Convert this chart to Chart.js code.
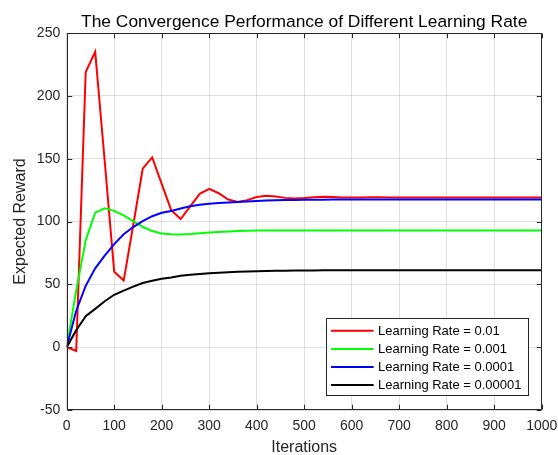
<!DOCTYPE html>
<html>
<head>
<meta charset="utf-8">
<script src="https://cdn.jsdelivr.net/npm/chart.js@4.4.1/dist/chart.umd.min.js"></script>
<style>
  html, body { margin: 0; padding: 0; background: #ffffff; }
  #wrap { width: 558px; height: 455px; }
</style>
</head>
<body>
<div id="wrap"><canvas id="c" width="558" height="455"></canvas></div>
<script>
// ---- data ----
const titleText = 'The Convergence Performance of Different Learning Rate';
const xLabel = 'Iterations';
const yLabel = 'Expected Reward';
const seriesLabels = ['Learning Rate = 0.01', 'Learning Rate = 0.001', 'Learning Rate = 0.0001', 'Learning Rate = 0.00001'];
const seriesColors = ['#ff0000', '#00ff00', '#0000ff', '#000000'];

const iterations = [0, 20, 40, 60, 80, 100, 120, 140, 160, 180,
  200, 220, 240, 260, 280, 300, 320, 340, 360, 380,
  400, 420, 440, 460, 480, 500, 520, 540, 560, 580,
  600, 620, 640, 660, 680, 700, 720, 740, 760, 780,
  800, 820, 840, 860, 880, 900, 920, 940, 960, 980, 1000];

const lr001 = [0, -3, 219, 235, 148, 60, 53, 97, 142, 151,
  130, 109, 102, 112, 122, 126, 122.5, 117.5, 115.5, 117,
  119.5, 120.5, 119.8, 118.8, 118.4, 118.7, 119.3, 119.6, 119.4, 119.1,
  119, 119.1, 119.2, 119.2, 119.1, 119.1, 119.1, 119.1, 119.1, 119.1,
  119.1, 119.1, 119.1, 119.1, 119.1, 119.1, 119.1, 119.1, 119.1, 119.1, 119.1];

const lr0001 = [0, 45, 85, 107, 110.5, 108.5, 104.8, 100.3, 95.8, 92.4,
  90.5, 89.9, 89.7, 90, 90.6, 91.2, 91.7, 92.1, 92.4, 92.6,
  92.8, 92.9, 92.9, 92.9, 92.9, 92.9, 92.9, 92.9, 92.9, 92.9,
  92.9, 92.9, 92.9, 92.9, 92.9, 92.9, 92.9, 92.9, 92.9, 92.9,
  92.9, 92.9, 92.9, 92.9, 92.9, 92.9, 92.9, 92.9, 92.9, 92.9, 92.9];

const lr00001 = [0, 29, 48.8, 62.7, 72.8, 82, 89.9, 95.6, 100.3, 104.2,
  107, 108.4, 110.3, 112.1, 113.3, 114.2, 114.7, 115.1, 115.6, 116,
  116.4, 116.8, 117, 117.1, 117.2, 117.3, 117.4, 117.4, 117.5, 117.5,
  117.5, 117.5, 117.6, 117.6, 117.6, 117.6, 117.6, 117.6, 117.6, 117.6,
  117.6, 117.6, 117.6, 117.6, 117.6, 117.6, 117.6, 117.6, 117.6, 117.6, 117.6];

const lr000001 = [0, 13.5, 24.7, 30.5, 36.5, 41.7, 45, 48.2, 51, 52.8,
  54.4, 55.5, 56.8, 57.6, 58.3, 58.9, 59.3, 59.7, 60, 60.2,
  60.4, 60.6, 60.8, 60.9, 61, 61.1, 61.1, 61.2, 61.2, 61.2,
  61.2, 61.2, 61.3, 61.3, 61.3, 61.3, 61.3, 61.3, 61.3, 61.3,
  61.3, 61.3, 61.3, 61.3, 61.3, 61.3, 61.3, 61.3, 61.3, 61.3, 61.3];

const xMin = 0, xMax = 1000, xStep = 100;
const yMin = -50, yMax = 250, yStep = 50;

// ---- chart ----
const FONT = "'Liberation Sans', Arial, Helvetica, sans-serif";
Chart.defaults.font.family = FONT;
const AXIS_COLOR = '#262626';
const GRID_COLOR = 'rgba(38,38,38,0.15)';

const allSeries = [lr001, lr0001, lr00001, lr000001];
const datasets = allSeries.map((vals, i) => ({
  label: seriesLabels[i],
  data: iterations.map((x, j) => ({ x: x, y: vals[j] })),
  borderColor: seriesColors[i],
  backgroundColor: seriesColors[i],
  borderWidth: 2,
  pointRadius: 0,
  fill: false,
  tension: 0,
  order: -i
}));

const centeredTitle = {
  id: 'centeredTitle',
  afterDraw(chart) {
    const ctx = chart.ctx;
    const a = chart.chartArea;
    ctx.save();
    ctx.font = '17.4px ' + FONT;
    ctx.fillStyle = '#000000';
    ctx.textAlign = 'center';
    ctx.textBaseline = 'alphabetic';
    ctx.fillText(titleText, (a.left + a.right) / 2, 26.7);
    ctx.restore();
  }
};

const boxAndTicks = {
  id: 'boxAndTicks',
  afterDatasetsDraw(chart) {
    const ctx = chart.ctx;
    const a = chart.chartArea;
    const L = Math.round(a.left) + 0.5, R = Math.round(a.right) - 0.5;
    const T = Math.round(a.top) + 0.5, B = Math.round(a.bottom) - 0.5;
    const tl = 4.75;
    ctx.save();
    ctx.strokeStyle = AXIS_COLOR;
    ctx.lineWidth = 1;
    ctx.beginPath();
    ctx.rect(L, T, R - L, B - T);
    const xs = chart.scales.x, ys = chart.scales.y;
    xs.ticks.forEach(t => {
      const p = Math.round(xs.getPixelForValue(t.value)) + 0.5;
      ctx.moveTo(p, B); ctx.lineTo(p, B - tl);
      ctx.moveTo(p, T); ctx.lineTo(p, T + tl);
    });
    ys.ticks.forEach(t => {
      const p = Math.round(ys.getPixelForValue(t.value)) + 0.5;
      ctx.moveTo(L, p); ctx.lineTo(L + tl, p);
      ctx.moveTo(R, p); ctx.lineTo(R - tl, p);
    });
    ctx.stroke();
    ctx.restore();
  }
};

const innerLegend = {
  id: 'innerLegend',
  afterDraw(chart) {
    const ctx = chart.ctx;
    const a = chart.chartArea;
    const ds = chart.data.datasets;
    ctx.save();
    ctx.font = '13px ' + FONT;
    let maxW = 0;
    ds.forEach(d => { maxW = Math.max(maxW, ctx.measureText(d.label).width); });
    const padL = 5.5, lineLen = 42.6, gap = 4.4, padR = 6.5;
    const rowH = 18.1, padTop = 12.4, padBot = 10.6;
    const w = padL + lineLen + gap + maxW + padR;
    const h = padTop + rowH * (ds.length - 1) + padBot;
    const right = a.right - 13.7, bottom = a.bottom - 14.3;
    const left = right - w, top = bottom - h;
    ctx.fillStyle = '#ffffff';
    ctx.fillRect(left, top, w, h);
    ctx.strokeStyle = AXIS_COLOR;
    ctx.lineWidth = 1;
    ctx.strokeRect(Math.round(left) + 0.5, Math.round(top) + 0.5, Math.round(w), Math.round(h));
    ds.forEach((d, i) => {
      const y = top + padTop + i * rowH;
      ctx.strokeStyle = d.borderColor;
      ctx.lineWidth = 2;
      ctx.beginPath();
      ctx.moveTo(left + padL, y);
      ctx.lineTo(left + padL + lineLen, y);
      ctx.stroke();
      ctx.fillStyle = '#000000';
      ctx.textAlign = 'left';
      ctx.textBaseline = 'middle';
      ctx.fillText(d.label, left + padL + lineLen + gap, y + 0.5);
    });
    ctx.restore();
  }
};

new Chart(document.getElementById('c'), {
  type: 'line',
  data: { datasets: datasets },
  options: {
    responsive: false,
    animation: false,
    devicePixelRatio: 1,
    layout: { padding: { left: 0, right: 16.3, top: 33, bottom: 0 } },
    plugins: {
      legend: { display: false },
      tooltip: { enabled: false },
      title: { display: false }
    },
    scales: {
      x: {
        type: 'linear',
        min: xMin, max: xMax,
        ticks: { stepSize: xStep, color: AXIS_COLOR, font: { size: 14 }, padding: 7.7, autoSkip: false, maxRotation: 0,
                 callback: v => String(v) },
        grid: { color: GRID_COLOR, lineWidth: 1, drawTicks: false },
        border: { display: false },
        title: { display: true, text: xLabel, color: AXIS_COLOR, font: { size: 16, lineHeight: 0.9 }, padding: { top: 0, bottom: 0 } },
        afterFit(s) { s.height = 45; s.paddingLeft = 0; s.paddingRight = 0; }
      },
      y: {
        type: 'linear',
        min: yMin, max: yMax,
        ticks: { stepSize: yStep, color: AXIS_COLOR, font: { size: 14 }, padding: 6.5, callback: v => String(v) },
        grid: { color: GRID_COLOR, lineWidth: 1, drawTicks: false },
        border: { display: false },
        title: { display: true, text: yLabel, color: AXIS_COLOR, font: { size: 16, lineHeight: 1.2 }, padding: { top: 11.4, bottom: 0 } },
        afterFit(s) { s.width = 66.7; s.paddingTop = 0; s.paddingBottom = 0; }
      }
    }
  },
  plugins: [boxAndTicks, innerLegend, centeredTitle]
});
</script>
</body>
</html>
